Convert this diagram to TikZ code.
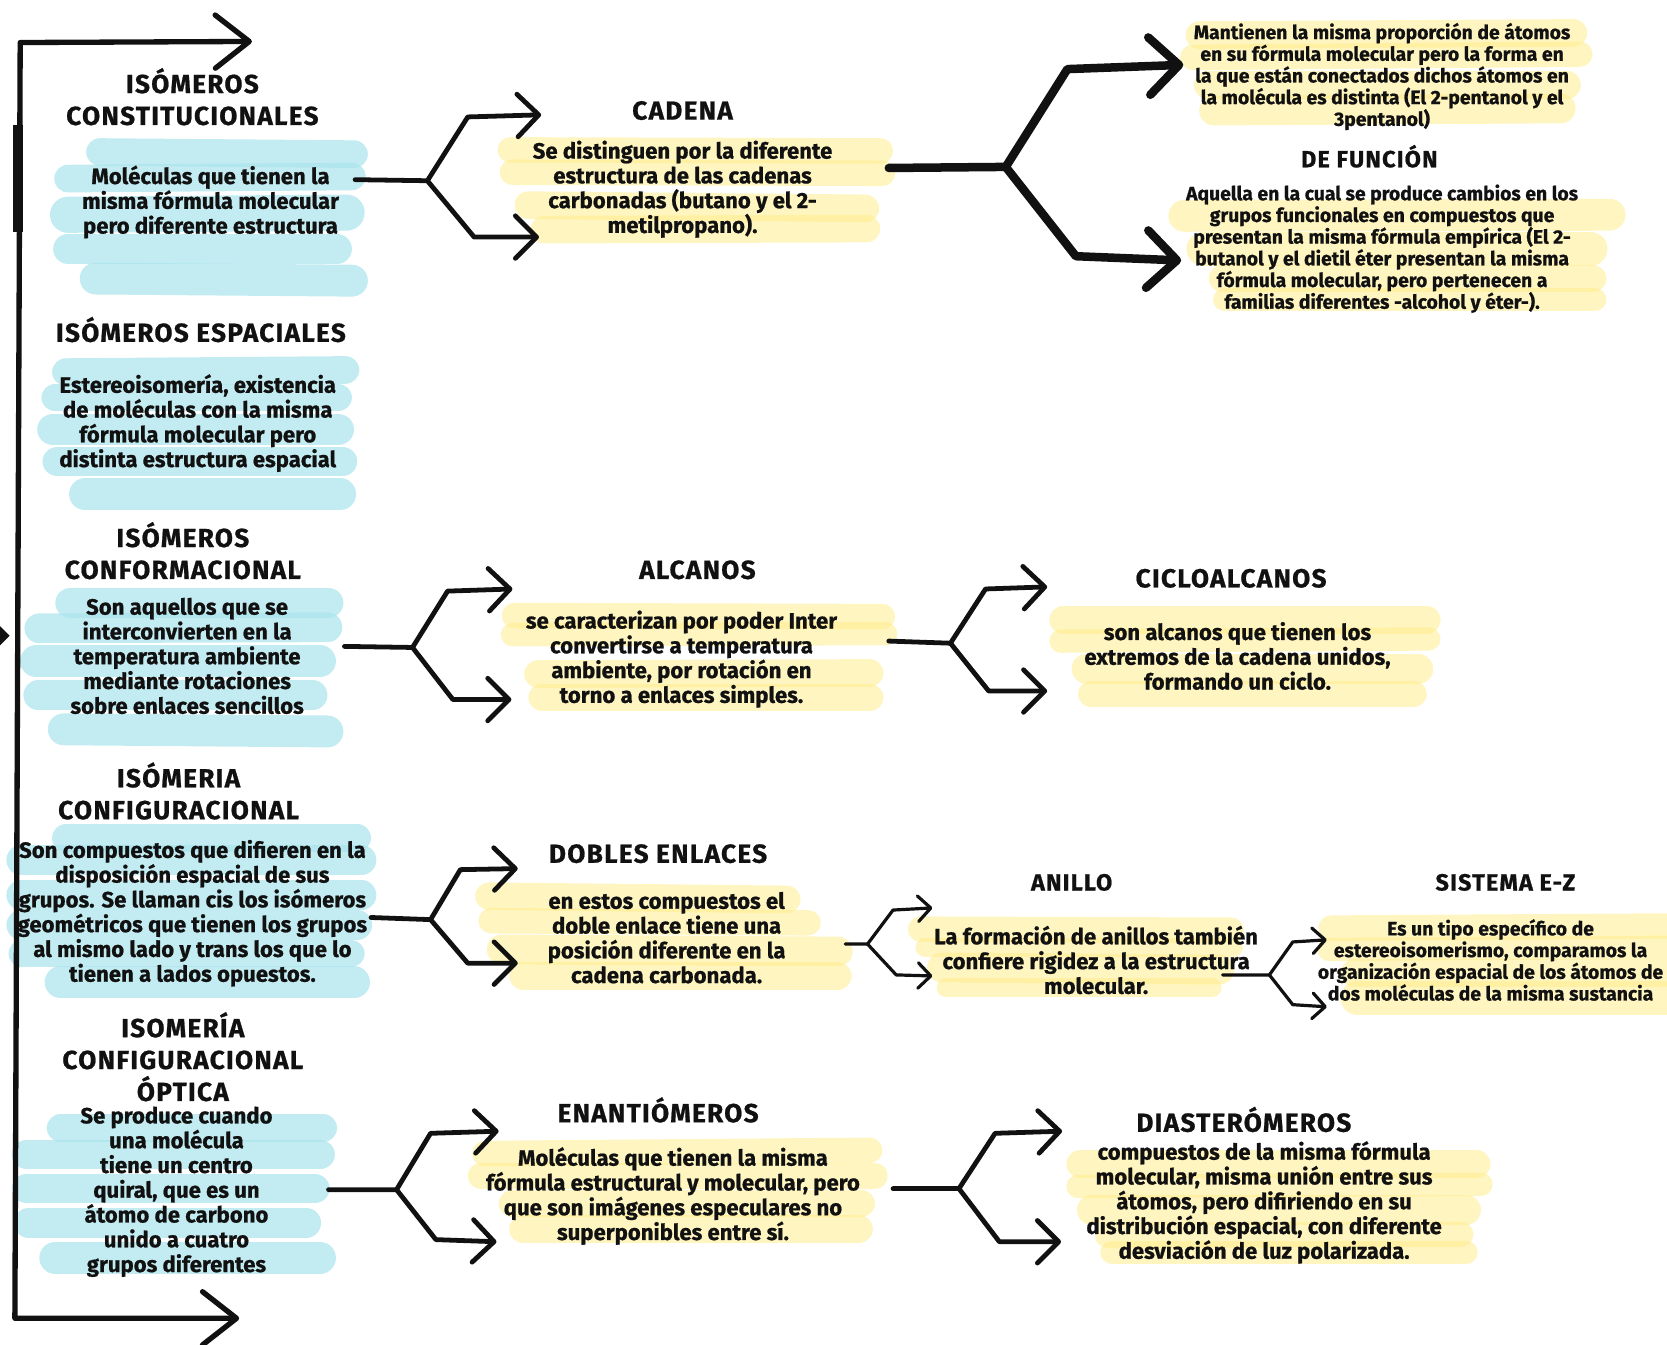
\documentclass[tikz,border=0pt]{standalone}
\usepackage{fontspec}
\setmainfont{Fira Sans}[BoldFeatures={FakeBold=0.8}]
\newfontfamily\hdfont[LetterSpace=5,BoldFeatures={FakeBold=0.8}]{Fira Sans}
\usetikzlibrary{arrows.meta}
\definecolor{hlblue}{RGB}{170,228,236}
\definecolor{hlyel}{RGB}{255,236,140}
\definecolor{ink}{RGB}{17,17,17}
\begin{document}
\begin{tikzpicture}[x=1pt,y=-1pt,
  hd/.style={font=\hdfont\bfseries\fontsize{24.6}{30}\selectfont, align=center, inner sep=0pt, text=ink},
  hdsm/.style={font=\hdfont\bfseries\fontsize{22}{26}\selectfont, align=center, inner sep=0pt, text=ink},
  bd/.style={font=\bfseries\fontsize{20.8}{23.3}\selectfont, align=center, inner sep=0pt, text=ink},
  sm/.style={font=\bfseries\fontsize{18.2}{20.4}\selectfont, align=center, inner sep=0pt, text=ink},
  hlb/.style={draw=hlblue, line width=#1, line cap=round, opacity=0.7},
  hly/.style={draw=hlyel, line width=#1, line cap=round, opacity=0.55},
  conn/.style={draw=ink, line width=4.5pt, line cap=round, line join=round, -{Straight Barb[length=20pt,width=40pt,round]}},
  connthick/.style={draw=ink, line width=8pt, line cap=round, line join=round, -{Straight Barb[length=28pt,width=54pt,round]}},
  connthin/.style={draw=ink, line width=3pt, line cap=round, line join=round, -{Straight Barb[length=12pt,width=24pt,round]}},
  brk/.style={draw=ink, line width=5pt, line cap=round, line join=round, {Straight Barb[length=32pt,width=50pt,round]}-{Straight Barb[length=32pt,width=50pt,round]}}
]
\useasboundingbox (0,0) rectangle (1568,1265);

% ---------- blue highlights ----------
\draw[hlb=26] (94,143) -- (333,145);
\draw[hlb=26] (64,168) -- (331,166);
\draw[hlb=34] (64,202) -- (326,200);
\draw[hlb=28] (64,234) -- (317,234);
\draw[hlb=30] (90,262) -- (331,264);

\draw[hlb=26] (62,350) -- (325,348);
\draw[hlb=26] (52,374) -- (318,374);
\draw[hlb=30] (50,404) -- (318,404);
\draw[hlb=28] (54,434) -- (322,434);
\draw[hlb=30] (80,465) -- (320,465);

\draw[hlb=28] (66,567) -- (309,567);
\draw[hlb=28] (37,591) -- (308,590);
\draw[hlb=30] (34,622) -- (301,622);
\draw[hlb=28] (36,654) -- (294,654);
\draw[hlb=30] (60,686) -- (308,688);

\draw[hlb=26] (62,788) -- (336,788);
\draw[hlb=28] (20,809) -- (340,809);
\draw[hlb=28] (20,842) -- (340,842);
\draw[hlb=28] (20,870) -- (336,870);
\draw[hlb=26] (21,897) -- (330,897);
\draw[hlb=30] (57,924) -- (333,924);

\draw[hlb=26] (57,1061) -- (304,1061);
\draw[hlb=28] (25,1086) -- (301,1086);
\draw[hlb=28] (25,1118) -- (296,1118);
\draw[hlb=28] (27,1150) -- (288,1150);
\draw[hlb=30] (52,1183) -- (301,1183);

% ---------- yellow highlights ----------
\draw[hly=24] (480,141) -- (828,142);
\draw[hly=24] (482,162) -- (830,163);
\draw[hly=26] (497,193) -- (814,196);
\draw[hly=26] (512,216) -- (815,215);

\draw[hly=26] (1128,33) -- (1480,31);
\draw[hly=24] (1122,54) -- (1486,51);
\draw[hly=26] (1136,80) -- (1474,80);
\draw[hly=28] (1142,104) -- (1468,102);

\draw[hly=30] (1114,203) -- (1514,202);
\draw[hly=32] (1132,234) -- (1496,234);
\draw[hly=26] (1150,262) -- (1498,262);
\draw[hly=22] (1152,282) -- (1500,282);

\draw[hly=24] (484,579) -- (830,580);
\draw[hly=22] (482,597) -- (833,596);
\draw[hly=26] (506,634) -- (818,633);
\draw[hly=26] (510,656) -- (818,656);

\draw[hly=26] (1000,583) -- (1342,583);
\draw[hly=22] (998,603) -- (1344,601);
\draw[hly=28] (1022,629) -- (1334,629);
\draw[hly=24] (1026,653) -- (1330,653);

\draw[hly=26] (460,843) -- (740,846);
\draw[hly=24] (462,866) -- (760,868);
\draw[hly=28] (472,893) -- (788,895);
\draw[hly=26] (492,918) -- (788,918);

\draw[hly=24] (866,874) -- (1158,875);
\draw[hly=18] (870,891) -- (1160,891);
\draw[hly=28] (886,910) -- (1147,912);
\draw[hly=18] (890,929) -- (1140,929);

\draw[hly=24] (1252,873) -- (1575,871);
\draw[hly=22] (1250,893) -- (1575,891);
\draw[hly=26] (1274,915) -- (1575,915);
\draw[hly=32] (1277,939) -- (1575,939);

\draw[hly=24] (456,1085) -- (818,1082);
\draw[hly=24] (452,1106) -- (823,1106);
\draw[hly=26] (482,1132) -- (810,1132);
\draw[hly=26] (492,1156) -- (808,1156);

\draw[hly=26] (1016,1095) -- (1389,1095);
\draw[hly=22] (1014,1116) -- (1393,1114);
\draw[hly=28] (1027,1138) -- (1379,1138);
\draw[hly=24] (1042,1162) -- (1374,1161);
\draw[hly=22] (1046,1178) -- (1379,1178);

% ---------- bracket ----------
\coordinate (topT) at (237,39);
\coordinate (tl) at (19,40);
\coordinate (bl) at (14,1240);
\coordinate (botT) at (225,1240);
\coordinate (thA) at (17,118);
\coordinate (thB) at (17,218);
\draw[brk] (topT) -- (tl) -- (bl) -- (botT);
\draw[ink, line width=9pt] (thA) -- (thB);
\coordinate (lt1) at (-2,587);
\coordinate (lt2) at (9,598);
\coordinate (lt3) at (-2,609);
\fill[ink] (lt1) -- (lt2) -- (lt3) -- cycle;

% ---------- text nodes ----------
\node[hd] (h1) at (181,91) {ISÓMEROS\\CONSTITUCIONALES};
\node[bd] (t1) at (198,190) {Moléculas que tienen la\\misma fórmula molecular\\pero diferente estructura};

\node[hd] (h2) at (189,310) {ISÓMEROS ESPACIALES};
\node[bd] (t2) at (186,398) {Estereoisomería, existencia\\de moléculas con la misma\\fórmula molecular pero\\distinta estructura espacial};

\node[hd] (h3) at (172,518) {ISÓMEROS\\CONFORMACIONAL};
\node[bd] (t3) at (176,617) {Son aquellos que se\\interconvierten en la\\temperatura ambiente\\mediante rotaciones\\sobre enlaces sencillos};

\node[hd] (h4) at (168,744) {ISÓMERIA\\CONFIGURACIONAL};
\node[bd] (t4) at (181,859) {Son compuestos que difieren en la\\disposición espacial de sus\\grupos. Se llaman cis los isómeros\\geométricos que tienen los grupos\\al mismo lado y trans los que lo\\tienen a lados opuestos.};

\node[hd] (h5) at (172,994) {ISOMERÍA\\CONFIGURACIONAL\\ÓPTICA};
\node[bd] (t5) at (166,1121) {Se produce cuando\\una molécula\\tiene un centro\\quiral, que es un\\átomo de carbono\\unido a cuatro\\grupos diferentes};

\node[hd] (h6) at (642,104) {CADENA};
\node[bd] (t6) at (642,178) {Se distinguen por la diferente\\estructura de las cadenas\\carbonadas (butano y el 2-\\metilpropano).};

\node[sm] (t13) at (1300,72) {Mantienen la misma proporción de átomos\\en su fórmula molecular pero la forma en\\la que están conectados dichos átomos en\\la molécula es distinta (El 2-pentanol y el\\3pentanol)};
\node[hdsm] (h7) at (1288,147) {DE FUNCIÓN};
\node[sm] (t14) at (1300,234) {Aquella en la cual se produce cambios en los\\grupos funcionales en compuestos que\\presentan la misma fórmula empírica (El 2-\\butanol y el dietil éter presentan la misma\\fórmula molecular, pero pertenecen a\\familias diferentes -alcohol y éter-).};

\node[hd] (h8) at (656,536) {ALCANOS};
\node[bd] (t7) at (641,620) {se caracterizan por poder Inter\\convertirse a temperatura\\ambiente, por rotación en\\torno a enlaces simples.};

\node[hd] (h9) at (1158,544) {CICLOALCANOS};
\node[bd] (t8) at (1164,617) {son alcanos que tienen los\\extremos de la cadena unidos,\\formando un ciclo.};

\node[hd] (h10) at (619,803) {DOBLES ENLACES};
\node[bd] (t9) at (627,882) {en estos compuestos el\\doble enlace tiene una\\posición diferente en la\\cadena carbonada.};

\node[hdsm] (h11) at (1008,830) {ANILLO};
\node[bd] (t10) at (1031,903) {La formación de anillos también\\confiere rigidez a la estructura\\molecular.};

\node[hdsm] (h12) at (1416,830) {SISTEMA E-Z};
\node[sm] (t15) at (1402,903) {Es un tipo específico de\\estereoisomerismo, comparamos la\\organización espacial de los átomos de\\dos moléculas de la misma sustancia};

\node[hd] (h13) at (619,1044) {ENANTIÓMEROS};
\node[bd] (t11) at (633,1125) {Moléculas que tienen la misma\\fórmula estructural y molecular, pero\\que son imágenes especulares no\\superponibles entre sí.};

\node[hd] (h14) at (1170,1053) {DIASTERÓMEROS};
\node[bd] (t12) at (1189,1131) {compuestos de la misma fórmula\\molecular, misma unión entre sus\\átomos, pero difiriendo en su\\distribución espacial, con diferente\\desviación de luz polarizada.};

% ---------- forks ----------
% fork 1
\coordinate (f1s) at (334,169); \coordinate (f1b) at (402,170);
\coordinate (f1u) at (440,110); \coordinate (f1ut) at (509,108);
\coordinate (f1d) at (446,223); \coordinate (f1dt) at (507,223);
\draw[conn] (f1s) -- (f1b) -- (f1u) -- (f1ut);
\draw[conn] (f1b) -- (f1d) -- (f1dt);
% fork 2
\coordinate (f2s) at (836,158); \coordinate (f2b) at (946,157);
\coordinate (f2u) at (1004,65); \coordinate (f2ut) at (1113,61);
\coordinate (f2d) at (1012,241); \coordinate (f2dt) at (1111,245);
\draw[connthick] (f2s) -- (f2b) -- (f2u) -- (f2ut);
\draw[connthick] (f2b) -- (f2d) -- (f2dt);
% fork 3
\coordinate (f3s) at (324,608); \coordinate (f3b) at (388,609);
\coordinate (f3u) at (421,556); \coordinate (f3ut) at (482,554);
\coordinate (f3d) at (426,658); \coordinate (f3dt) at (481,658);
\draw[conn] (f3s) -- (f3b) -- (f3u) -- (f3ut);
\draw[conn] (f3b) -- (f3d) -- (f3dt);
% fork 4
\coordinate (f4s) at (836,603); \coordinate (f4b) at (894,605);
\coordinate (f4u) at (927,554); \coordinate (f4ut) at (985,552);
\coordinate (f4d) at (930,650); \coordinate (f4dt) at (985,650);
\draw[conn] (f4s) -- (f4b) -- (f4u) -- (f4ut);
\draw[conn] (f4b) -- (f4d) -- (f4dt);
% fork 5
\coordinate (f5s) at (349,863); \coordinate (f5b) at (405,865);
\coordinate (f5u) at (433,818); \coordinate (f5ut) at (487,817);
\coordinate (f5d) at (440,906); \coordinate (f5dt) at (487,906);
\draw[conn] (f5s) -- (f5b) -- (f5u) -- (f5ut);
\draw[conn] (f5b) -- (f5d) -- (f5dt);
% fork 6
\coordinate (f6s) at (795,888); \coordinate (f6b) at (816,888);
\coordinate (f6u) at (840,856); \coordinate (f6ut) at (877,854);
\coordinate (f6d) at (843,917); \coordinate (f6dt) at (877,918);
\draw[connthin] (f6s) -- (f6b) -- (f6u) -- (f6ut);
\draw[connthin] (f6b) -- (f6d) -- (f6dt);
% fork 7
\coordinate (f7s) at (1150,917); \coordinate (f7b) at (1194,917);
\coordinate (f7u) at (1216,886); \coordinate (f7ut) at (1248,884);
\coordinate (f7d) at (1216,945); \coordinate (f7dt) at (1248,947);
\draw[connthin] (f7s) -- (f7b) -- (f7u) -- (f7ut);
\draw[connthin] (f7b) -- (f7d) -- (f7dt);
% fork 8
\coordinate (f8s) at (309,1119); \coordinate (f8b) at (373,1119);
\coordinate (f8u) at (405,1066); \coordinate (f8ut) at (469,1064);
\coordinate (f8d) at (410,1166); \coordinate (f8dt) at (467,1168);
\draw[conn] (f8s) -- (f8b) -- (f8u) -- (f8ut);
\draw[conn] (f8b) -- (f8d) -- (f8dt);
% fork 9
\coordinate (f9s) at (840,1118); \coordinate (f9b) at (902,1118);
\coordinate (f9u) at (936,1066); \coordinate (f9ut) at (999,1064);
\coordinate (f9d) at (940,1168); \coordinate (f9dt) at (998,1168);
\draw[conn] (f9s) -- (f9b) -- (f9u) -- (f9ut);
\draw[conn] (f9b) -- (f9d) -- (f9dt);
\end{tikzpicture}
\end{document}
